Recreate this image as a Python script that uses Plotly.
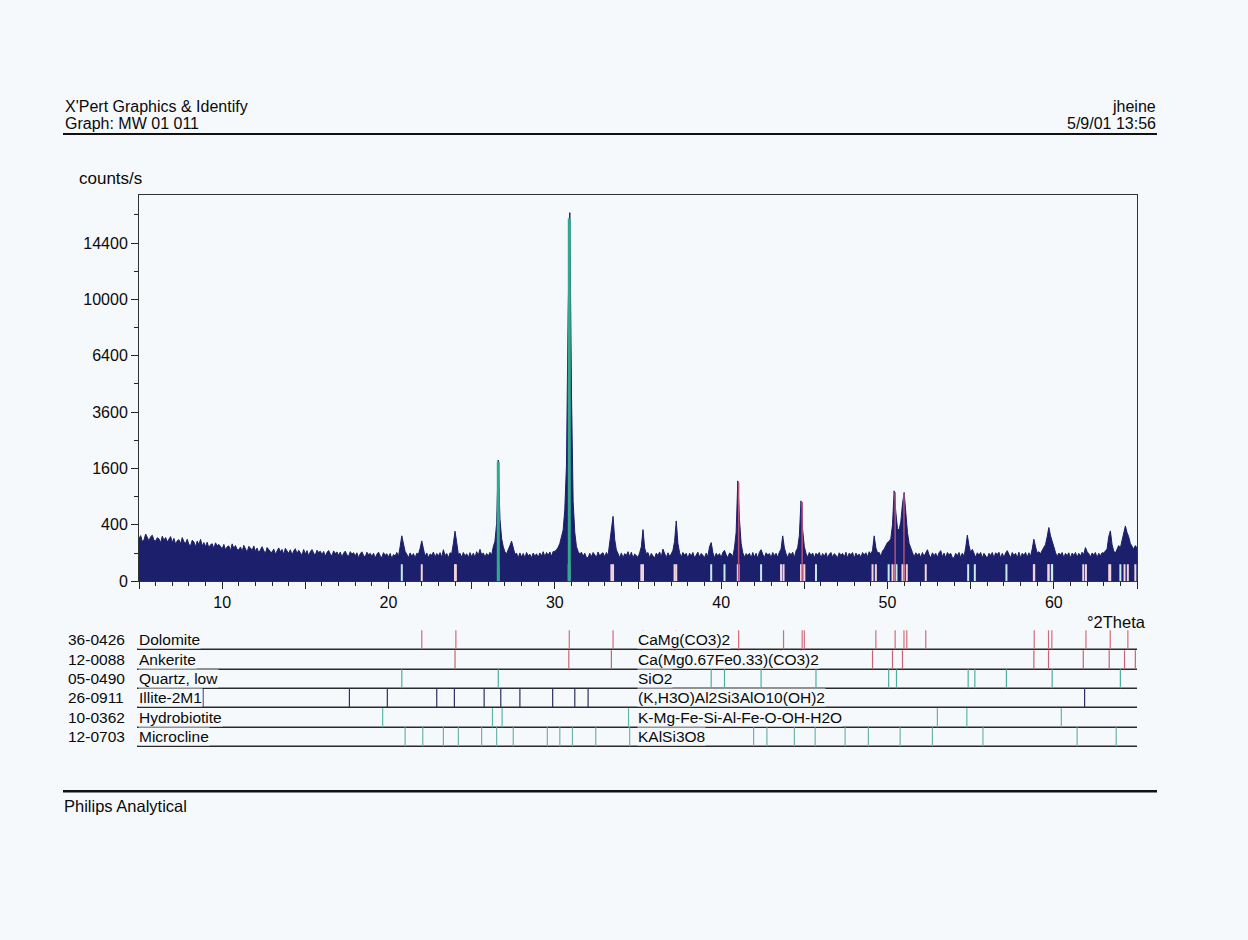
import numpy as np
import plotly.graph_objects as go

# ---------------- data ----------------
scan_start = 5.0      # °2Theta of first point
scan_step = 0.1       # °2Theta step
counts = [
    228, 262, 198, 214, 281, 236, 205, 249, 266, 210,   # 5
    204, 238, 226, 186, 255, 212, 241, 194, 230, 251,   # 6
    188, 231, 172, 206, 218, 176, 240, 196, 181, 222,   # 7
    171, 158, 212, 193, 150, 204, 166, 221, 157, 188,   # 8
    150, 192, 139, 168, 177, 133, 186, 158, 171, 146,   # 9
    132, 171, 124, 149, 158, 118, 176, 136, 160, 127,   # 10
    124, 148, 111, 162, 131, 106, 153, 140, 118, 157,   # 11
    112, 139, 101, 126, 150, 117, 98, 143, 128, 109,    # 12
    104, 131, 92, 122, 140, 108, 127, 90, 136, 115,     # 13
    98, 125, 86, 116, 133, 95, 121, 102, 84, 127,       # 14
    93, 118, 81, 110, 126, 99, 86, 121, 104, 113,       # 15
    88, 112, 78, 104, 119, 93, 82, 116, 97, 108,        # 16
    84, 107, 73, 99, 114, 88, 78, 110, 92, 103,         # 17
    80, 102, 70, 95, 109, 84, 74, 106, 88, 98,          # 18
    77, 99, 67, 92, 106, 81, 71, 103, 85, 95,           # 19
    74, 97, 65, 90, 80, 104, 78, 150, 260, 175,         # 20
    112, 92, 70, 101, 79, 96, 68, 99, 91, 135,          # 21
    205, 132, 78, 101, 70, 94, 85, 107, 73, 97,         # 22
    80, 103, 72, 125, 84, 97, 69, 102, 95, 180,         # 23
    315, 190, 90, 98, 72, 104, 81, 95, 70, 103,         # 24
    76, 99, 71, 110, 84, 128, 88, 101, 74, 97,          # 25
    80, 105, 86, 150, 200, 420, 1850, 490, 230, 150,    # 26
    108, 96, 122, 160, 202, 145, 92, 99, 70, 101,       # 27
    74, 97, 69, 104, 82, 92, 70, 100, 79, 95,           # 28
    72, 101, 80, 110, 76, 104, 85, 108, 78, 112,        # 29
    112, 125, 145, 180, 250, 330, 650, 1700, 9000, 17100,  # 30
    4500, 800, 300, 150, 112, 92, 106, 78, 99, 71,      # 31
    70, 98, 76, 104, 88, 72, 108, 80, 95, 102,          # 32
    74, 104, 82, 180, 330, 530, 220, 122, 97, 70,       # 33
    101, 69, 96, 84, 110, 75, 106, 68, 93, 85,          # 34
    72, 102, 150, 336, 140, 94, 104, 70, 97, 80,        # 35
    68, 100, 82, 108, 74, 130, 92, 70, 102, 78,         # 36
    94, 120, 200, 458, 180, 102, 73, 104, 86, 98,       # 37
    66, 99, 80, 104, 69, 92, 106, 74, 97, 85,           # 38
    70, 100, 76, 150, 188, 104, 68, 98, 82, 96,         # 39
    71, 104, 120, 88, 70, 100, 94, 76, 140, 300,        # 40
    1268, 480, 180, 102, 72, 96, 84, 98, 68, 104,       # 41
    74, 98, 66, 106, 125, 92, 71, 102, 86, 97,          # 42
    70, 104, 82, 98, 72, 106, 130, 259, 140, 96,        # 43
    71, 102, 88, 106, 70, 115, 140, 260, 813, 330,      # 44
    150, 97, 72, 104, 84, 100, 69, 98, 86, 104,         # 45
    68, 97, 78, 102, 70, 92, 104, 73, 96, 85,           # 46
    70, 102, 84, 98, 72, 106, 68, 100, 88, 104,         # 47
    66, 100, 80, 94, 71, 104, 86, 102, 75, 110,         # 48
    92, 120, 259, 140, 102, 104, 78, 115, 130, 160,     # 49
    190, 200, 230, 400, 1028, 600, 350, 330, 450, 750,  # 50
    991, 600, 300, 180, 130, 104, 74, 102, 85, 98,      # 51
    70, 104, 78, 100, 125, 88, 68, 102, 82, 98,         # 52
    72, 102, 118, 76, 100, 69, 104, 88, 98, 70,         # 53
    68, 98, 82, 104, 70, 100, 76, 140, 267, 160,        # 54
    104, 128, 98, 72, 102, 86, 104, 69, 98, 80,         # 55
    66, 98, 84, 104, 70, 102, 90, 106, 68, 98,          # 56
    72, 100, 118, 92, 70, 104, 84, 98, 68, 106,         # 57
    70, 98, 85, 104, 72, 102, 78, 130, 222, 150,        # 58
    100, 110, 95, 120, 140, 170, 250, 363, 260, 190,    # 59
    150, 104, 76, 100, 88, 104, 70, 98, 82, 102,        # 60
    68, 100, 84, 104, 72, 98, 80, 106, 90, 143,         # 61
    110, 96, 74, 100, 86, 104, 70, 98, 82, 102,         # 62
    100, 115, 130, 250, 319, 170, 115, 100, 130, 160,   # 63
    140, 200, 280, 385, 300, 250, 180, 150, 130, 160,   # 64
    140,                                                # 65
]

y_tick_counts = [0, 400, 1600, 3600, 6400, 10000, 14400]
y_minor_counts = [100, 900, 2500, 4900, 8100, 12100, 16900]
x_tick_values = [5, 10, 15, 20, 25, 30, 35, 40, 45, 50, 55, 60, 65]
x_tick_labels = ["", "10", "", "20", "", "30", "", "40", "", "50", "", "60", ""]

phase_codes = ["36-0426", "12-0088", "05-0490", "26-0911", "10-0362", "12-0703"]
phase_names = ["Dolomite", "Ankerite", "Quartz, low", "Illite-2M1", "Hydrobiotite", "Microcline"]
phase_formulas = ["CaMg(CO3)2", "Ca(Mg0.67Fe0.33)(CO3)2", "SiO2",
                  "(K,H3O)Al2Si3AlO10(OH)2", "K-Mg-Fe-Si-Al-Fe-O-OH-H2O", "KAlSi3O8"]

dolomite_lines = [22.0, 24.05, 30.87, 33.5, 35.3, 37.3, 41.05, 43.75, 44.87, 45.0, 49.3,
                  50.46, 50.99, 51.16, 52.3, 58.82, 59.68, 59.88, 61.93, 63.39, 64.45]
ankerite_lines = [24.0, 30.84, 33.4, 35.2, 37.2, 41.0, 43.6, 44.8, 49.1, 50.3, 50.9,
                  58.8, 59.68, 61.77, 63.33, 64.25, 64.9]
quartz_lines = [20.8, 26.6, 39.4, 40.2, 42.4, 45.7, 50.07, 50.54, 54.85, 55.25, 57.15,
                59.9, 64.0]
illite_lines = [8.85, 17.65, 19.93, 22.9, 23.96, 25.75, 26.75, 27.9, 29.87, 31.2, 32.0, 61.85]
hydrobiotite_lines = [19.65, 26.25, 26.83, 34.43, 53.0, 54.77, 60.45]
microcline_lines = [21.0, 22.06, 23.3, 24.2, 25.6, 26.5, 27.5, 29.55, 30.3, 31.06, 32.46,
                    34.5, 41.95, 42.75, 44.4, 45.65, 47.45, 48.85, 50.76, 52.7, 55.74,
                    61.4, 63.75]

phase_lines = [dolomite_lines, ankerite_lines, quartz_lines, illite_lines,
               hydrobiotite_lines, microcline_lines]

# ---------------- styling / geometry ----------------
W, H = 1248, 940
VSCALE = 1.0101   # compensates the vertical scale seen in the rendered page
BG = "#f5f9fc"
NAVY = "#1c1f6c"
FONT = "Liberation Sans, Arial, sans-serif"
TXT = "#0a0a0a"
phase_colors = ["#d46b7c", "#c96474", "#4fae9f", "#2e3060", "#5cb8a8", "#6fb3ad"]
plot_stick_colors = {0: "#f2d4dc", 1: "#f2d4dc", 2: "#c6ecea"}

def px(x):
    return x / W

def py(y):
    return 1 - (y * VSCALE) / H

two_theta = np.round(scan_start + scan_step * np.arange(len(counts)), 2)
counts_arr = np.array(counts, dtype=float)
sig = np.sqrt(counts_arr)

fig = go.Figure()
fig.add_trace(go.Scatter(
    x=two_theta, y=sig, mode="lines",
    line=dict(color=NAVY, width=1), fill="tozeroy", fillcolor=NAVY,
    hoverinfo="skip", showlegend=False))

shapes = []

# reference sticks inside the pattern (carbonates + quartz)
for idx in (0, 1, 2):
    for pos in phase_lines[idx]:
        shapes.append(dict(type="line", xref="x", yref="y", x0=pos, x1=pos, y0=0, y1=6,
                           line=dict(color=plot_stick_colors[idx], width=2), layer="above"))

# coloured cores of the strongest reflections
for idx in (0, 2):
    for pos in phase_lines[idx]:
        win = (two_theta >= pos - 0.08) & (two_theta <= pos + 0.08)
        if not win.any():
            continue
        top = counts_arr[win].max()
        if top >= 1500:
            col, w = "#33a88e", 3
        elif top >= 700:
            col, w = "#b4507a", 1.5
        else:
            continue
        shapes.append(dict(type="line", xref="x", yref="y", x0=pos, x1=pos, y0=0,
                           y1=np.sqrt(top) * 0.985,
                           line=dict(color=col, width=w), layer="above"))

# header / footer rules
shapes.append(dict(type="line", xref="paper", yref="paper", x0=px(63), x1=px(1157),
                   y0=py(134), y1=py(134), line=dict(color="#111", width=2)))
shapes.append(dict(type="line", xref="paper", yref="paper", x0=px(63), x1=px(1157),
                   y0=py(791), y1=py(791), line=dict(color="#111", width=2.5)))

# phase table
row_line_y = [649, 669, 688, 707, 727, 746]
row_h = 19
for i, lines in enumerate(phase_lines):
    yl = row_line_y[i]
    shapes.append(dict(type="line", xref="paper", yref="paper", x0=px(137), x1=px(1137),
                       y0=py(yl), y1=py(yl), line=dict(color="#2a2a2a", width=1.5)))
    for pos in lines:
        shapes.append(dict(type="line", xref="x", yref="paper", x0=pos, x1=pos,
                           y0=py(yl), y1=py(yl - row_h),
                           line=dict(color=phase_colors[i], width=1.2)))

annotations = []
def txt(x, y, s, size=15, anchor="left", bg=None):
    d = dict(xref="paper", yref="paper", x=px(x), y=py(y), text=s, showarrow=False,
             xanchor=anchor, yanchor="middle", font=dict(family=FONT, size=size, color=TXT),
             borderpad=0)
    if bg:
        d["bgcolor"] = bg
    annotations.append(d)

txt(64, 106, "X'Pert Graphics & Identify", 16)
txt(64, 123, "Graph: MW 01 011", 16)
txt(1157, 106, "jheine", 16, anchor="right")
txt(1157, 123, "5/9/01 13:56", 16, anchor="right")
txt(78, 178, "counts/s", 17)
txt(1147, 622, "°2Theta", 16.5, anchor="right")
txt(63, 806, "Philips Analytical", 16.5)

for i in range(6):
    yc = row_line_y[i] - 10
    txt(67, yc, phase_codes[i], 15.5, bg=BG)
    txt(138, yc, phase_names[i], 15.5, bg=BG)
    txt(637, yc, phase_formulas[i], 15.5, bg=BG)

fig.update_layout(
    width=W, height=H, margin=dict(l=0, r=0, t=0, b=0),
    paper_bgcolor=BG, plot_bgcolor=BG, showlegend=False,
    shapes=shapes, annotations=annotations,
    xaxis=dict(domain=[px(139), px(1137)], range=[5, 65], showgrid=False, zeroline=False,
               showline=True, linecolor="#333", linewidth=1, mirror=True,
               tickmode="array", tickvals=x_tick_values, ticktext=x_tick_labels,
               ticks="outside", ticklen=7, tickcolor="#222", tickwidth=1,
               tickfont=dict(family=FONT, size=16, color=TXT),
               minor=dict(dtick=1, ticks="outside", ticklen=4, tickcolor="#222")),
    yaxis=dict(domain=[py(581), py(195)], range=[0, 137], showgrid=False, zeroline=False,
               showline=True, linecolor="#333", linewidth=1, mirror=True,
               tickmode="array", tickvals=[np.sqrt(v) for v in y_tick_counts],
               ticktext=[str(v) for v in y_tick_counts],
               ticks="outside", ticklen=7, tickcolor="#222", tickwidth=1,
               tickfont=dict(family=FONT, size=16, color=TXT),
               minor=dict(tickvals=[np.sqrt(v) for v in y_minor_counts], ticks="outside",
                          ticklen=4, tickcolor="#222")),
)

fig.write_html("out.html")
